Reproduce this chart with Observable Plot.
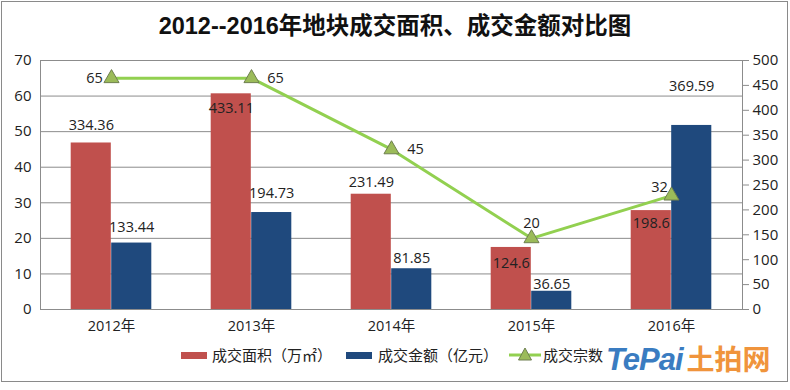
<!DOCTYPE html>
<html>
<head>
<meta charset="utf-8">
<script src="https://cdn.jsdelivr.net/npm/d3@7"></script>
<script src="https://cdn.jsdelivr.net/npm/@observablehq/plot@0.6"></script>
<style>
  body { margin: 0; background: #fff; }
  #wrap { position: relative; width: 790px; height: 390px; background: #fff; overflow: hidden;
          font-family: "Open Sans", "Noto Sans CJK SC", sans-serif; color: #222; }
  #border { position: absolute; left: 1px; top: 1px; width: 785px; height: 379px; border: 1px solid #8a8a8a; }
  #title { position: absolute; left: 0; top: 13px; width: 790px; text-align: center; font-size: 23.5px; line-height: 26px;
           font-weight: bold; font-family: "Liberation Sans Narrow", "Liberation Sans", "Noto Sans CJK SC", sans-serif; color: #111; }
  #chart { position: absolute; left: 0; top: 0; }
  .lg { position: absolute; font-size: 15px; line-height: 16px; top: 347px; font-family: "Noto Sans CJK SC", sans-serif; color: #222; }
  .sw { position: absolute; top: 352px; width: 26px; height: 7px; }
  #logo { position: absolute; left: 606px; top: 338px; white-space: nowrap; }
  #logo .t { font-family: "Liberation Sans", sans-serif; font-weight: bold; font-style: italic; font-size: 31px; color: #3a7cc1; letter-spacing: -1px; }
  #logo .c { font-family: "Noto Sans CJK SC", sans-serif; font-weight: bold; font-size: 28px; color: #f0943c; margin-left: 4px; }
</style>
</head>
<body>
<div id="wrap">
  <div id="border"></div>
  <div id="chart"></div>
  <div id="title"></div>
  <div class="sw" style="left:181px;background:#c0504d"></div>
  <div class="lg" id="lg1" style="left:212px"></div>
  <div class="sw" style="left:346px;background:#1f497d"></div>
  <div class="lg" id="lg2" style="left:378px"></div>
  <svg style="position:absolute;left:508px;top:346px" width="34" height="18">
    <line x1="1" y1="9" x2="33" y2="9" stroke="#92d050" stroke-width="3"/>
    <path d="M17,2 L23.5,14 L10.5,14 Z" fill="#9bbb59" stroke="#6e7f50" stroke-width="1"/>
  </svg>
  <div class="lg" id="lg3" style="left:543px"></div>
  <div id="logo"><span class="t">TePai</span><span class="c">土拍网</span></div>
</div>
<script>
// ---- data ----
const years = ["2012年", "2013年", "2014年", "2015年", "2016年"];
const areaValues = [334.36, 433.11, 231.49, 124.6, 198.6];     // 成交面积（万㎡）— right axis
const amountValues = [133.44, 194.73, 81.85, 36.65, 369.59];   // 成交金额（亿元）— right axis
const countValues = [65, 65, 45, 20, 32];                      // 成交宗数 — left axis
const leftTicks = [0, 10, 20, 30, 40, 50, 60, 70];
const rightTicks = [0, 50, 100, 150, 200, 250, 300, 350, 400, 450, 500];
const titleText = "2012--2016年地块成交面积、成交金额对比图";
const seriesNames = ["成交面积（万㎡）", "成交金额（亿元）", "成交宗数"];

document.getElementById("title").textContent = titleText;
document.getElementById("lg1").textContent = seriesNames[0];
document.getElementById("lg2").textContent = seriesNames[1];
document.getElementById("lg3").textContent = seriesNames[2];

const leftMax = 70, rightMax = 500;
const toRight = v => v * rightMax / leftMax;

const area = years.map((y, i) => ({year: y, v: areaValues[i], i}));
const amount = years.map((y, i) => ({year: y, v: amountValues[i], i}));
const count = years.map((y, i) => ({year: y, v: countValues[i], yv: toRight(countValues[i]), i}));

const fs = 14.5;
const txt = (data, i, yKey, dx, dy) => Plot.text(data, {
  filter: d => d.i === i, x: "year", y: yKey, text: d => String(d.v),
  dx, dy, fontSize: fs, fill: "#222", textAnchor: "middle"
});

const band = 140.4, half = band / 2, bw = 40.5;

const chart = Plot.plot({
  width: 790, height: 390,
  marginTop: 60, marginBottom: 81, marginLeft: 40, marginRight: 48,
  style: {fontFamily: "'Open Sans','Noto Sans CJK SC',sans-serif", fontSize: "15px", color: "#222", background: "transparent"},
  x: {type: "band", domain: years, padding: 0},
  y: {domain: [0, rightMax]},
  marks: [
    Plot.gridY(leftTicks.map(toRight), {stroke: "#8c8c8c", strokeOpacity: 1}),
    Plot.barY(area, {x: "year", y: "v", fill: "#c0504d", insetLeft: half - bw, insetRight: half}),
    Plot.barY(amount, {x: "year", y: "v", fill: "#1f497d", insetLeft: half, insetRight: half - bw}),
    Plot.frame({stroke: "#8c8c8c"}),
    Plot.axisY(leftTicks.map(toRight), {anchor: "left", tickSize: 0, tickPadding: 9, fontSize: 15,
      tickFormat: d => String(Math.round(d * leftMax / rightMax)), label: null}),
    Plot.axisY(rightTicks, {anchor: "right", tickSize: 6, tickPadding: 4, fontSize: 15, stroke: "#8c8c8c", label: null}),
    Plot.axisX({tickSize: 0, tickPadding: 11, fontSize: fs, label: null}),
    Plot.line(count, {x: "year", y: "yv", stroke: "#92d050", strokeWidth: 3}),
    Plot.dot(count, {x: "year", y: "yv", symbol: "triangle", r: 5.6, fill: "#9bbb59", stroke: "#6e7f50", strokeWidth: 1}),
    // area labels
    txt(area, 0, "v", -20.2, -18),
    txt(area, 1, "v", -20.2, 15),
    txt(area, 2, "v", -20.2, -12),
    txt(area, 3, "v", -20.2, 16),
    txt(area, 4, "v", -20.2, 13),
    // amount labels
    txt(amount, 0, "v", 20.2, -16),
    txt(amount, 1, "v", 20.2, -19),
    txt(amount, 2, "v", 20.2, -10),
    txt(amount, 3, "v", 20.2, -7),
    txt(amount, 4, "v", 20.2, -39),
    // count labels
    txt(count, 0, "yv", -17, 0),
    txt(count, 1, "yv", 24, 0),
    txt(count, 2, "yv", 24, 0),
    txt(count, 3, "yv", 0, -15),
    txt(count, 4, "yv", -12, -8)
  ]
});
document.getElementById("chart").appendChild(chart);
</script>
</body>
</html>
